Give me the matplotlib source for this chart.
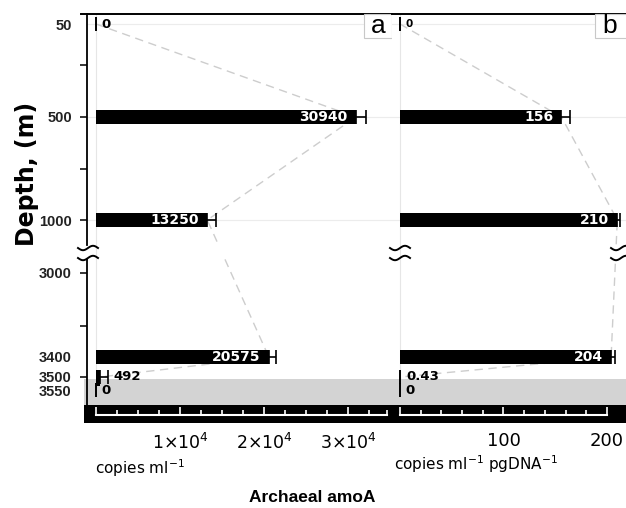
import numpy as np
import matplotlib
matplotlib.use("Agg")
import matplotlib.pyplot as plt
from matplotlib.patches import Rectangle
from matplotlib.ticker import FixedLocator

plt.rcParams['font.family'] = ['Liberation Sans', 'DejaVu Sans']
plt.rcParams['mathtext.fontset'] = 'dejavusans'

# data
depths = [50, 500, 1000, 3400, 3500, 3550]
copies_ml = [0, 30940, 13250, 20575, 492, 0]
copies_ml_err = [0, 1200, 1000, 800, 900, 0]
copies_pg = [0, 156, 210, 204, 0.43, 0]
copies_pg_err = [0, 8, 3, 4, 0, 0]
labels_a = ['0', '30940', '13250', '20575', '492', '0']
labels_b = ['0', '156', '210', '204', '0.43', '0']
depth_ticks = [50, 500, 1000, 3000, 3400, 3500, 3550]
depth_minor = [250, 750, 3250]

# broken depth axis (depth -> screen position)
brk_d = [0, 50, 500, 1000, 1120, 2930, 3000, 3400, 3500, 3550, 3700]
brk_p = [14, 24, 117, 220, 245, 259, 273, 357, 377, 390, 423]
gap = (1120, 2930)
sediment = (3508, 3618)
floor = (3618, 3700)
ruler_depth = 3664


def fwd(d):
    return np.interp(d, brk_d, brk_p)


def inv(p):
    return np.interp(p, brk_p, brk_d)


W, H = 626, 508
fig = plt.figure(figsize=(W / 100, H / 100), dpi=100)


def px_axes(x0, x1, y0, y1):
    return fig.add_axes([x0 / W, 1 - y1 / H, (x1 - x0) / W, (y1 - y0) / H])


def squiggle(cx, cy):
    t = np.linspace(-1, 1, 40)
    x = cx + 10 * t
    y = cy - 2.2 * np.sin(np.pi * t)
    fig.add_artist(plt.Line2D(x / W, 1 - y / H, color='black', lw=1.4,
                              transform=fig.transFigure))


def panel(ax, vals, errs, labels, inside_min, top_small):
    ax.set_yscale('function', functions=(fwd, inv))
    for d in depths[:3]:
        ax.axhline(d, color='#ececec', lw=0.8, zorder=0)
    ax.plot([0, 0], [0, sediment[0]], color='#e6e6e6', lw=0.8, zorder=1.7)
    ax.axhspan(*sediment, color='#d3d3d3', lw=0, zorder=0.5)
    ax.axhspan(*floor, color='black', lw=0, zorder=0.6)

    # profile line drawn in true depth, hidden inside the axis break
    ln, = ax.plot(vals, depths, ls=(0, (6, 4)), color='#cdcdcd', lw=1, zorder=1.5)
    ln.get_path()._interpolation_steps = 200
    ax.axhspan(*gap, color='white', lw=0, zorder=1.6)

    ax.barh(depths, vals, height=70, color='black', lw=0, zorder=2)
    ax.errorbar(vals, depths, xerr=[np.zeros(len(errs)), errs], fmt='none',
                ecolor='black', elinewidth=1.2, capsize=5, capthick=1.2, zorder=3)

    for i, (v, e, lab) in enumerate(zip(vals, errs, labels)):
        if v >= inside_min:
            ax.annotate(lab, (v, depths[i]), xytext=(-6, 0), textcoords='offset points',
                        ha='right', va='center', color='white', fontweight='bold',
                        fontsize=10, family='DejaVu Sans', zorder=4)
        else:
            fs = 7.5 if (i == 0 and top_small) else 9.5
            ax.annotate(lab, (v + e, depths[i]), xytext=(4, 0), textcoords='offset points',
                        ha='left', va='center', color='black', fontweight='bold',
                        fontsize=fs, family='DejaVu Sans', zorder=4)

    ax.set_ylim(floor[1], 0)
    for s in ['left', 'right']:
        ax.spines[s].set_visible(False)
    ax.spines['top'].set_linewidth(1.4)
    ax.spines['bottom'].set_position(('data', ruler_depth))
    ax.spines['bottom'].set_color('white')
    ax.spines['bottom'].set_linewidth(1.5)
    ax.tick_params(axis='x', which='both', direction='in', color='white',
                   width=1.2, pad=12.5, labelcolor='black')
    ax.tick_params(axis='x', which='major', length=6)
    ax.tick_params(axis='x', which='minor', length=3.5)


# panel a
ax_a = px_axes(87, 392, 14, 423)
panel(ax_a, copies_ml, copies_ml_err, labels_a, 5000, False)
ax_a.set_xlim(-1071, 35238)
ax_a.spines['bottom'].set_bounds(0, 34600)
ax_a.set_xticks([0, 1e4, 2e4, 3e4],
                labels=['', r'1×10$^{\mathregular{4}}$', r'2×10$^{\mathregular{4}}$',
                        r'3×10$^{\mathregular{4}}$'],
                fontsize=12.5, family='DejaVu Sans')
ax_a.xaxis.set_minor_locator(FixedLocator(np.append(np.arange(0, 34000, 2500), 34600)))
ax_a.set_yticks(depth_ticks, labels=[str(d) for d in depth_ticks],
                fontweight='bold', fontsize=10.5, color='#222222')
ax_a.set_yticks(depth_minor, minor=True)
ax_a.tick_params(axis='y', which='both', direction='out', length=5, width=1.1, pad=6)
for tk, d in zip(ax_a.yaxis.get_major_ticks(), depth_ticks):
    if d in (50, 3400, 3550):
        tk.tick1line.set_visible(False)

# left axis line with break
yt = ax_a.get_yaxis_transform()
ax_a.plot([0, 0], [0, gap[0]], color='black', lw=1.3, transform=yt, clip_on=False)
ax_a.plot([0, 0], [gap[1], sediment[1]], color='black', lw=1.3, transform=yt, clip_on=False)
ax_a.plot([-6 / 305, 0], [1, 1], color='black', lw=1.4, transform=ax_a.transAxes, clip_on=False)
for sp in ax_a.patches[:2]:
    sp.set_clip_on(False)
    sp.set_x(-3 / 305)
    sp.set_width(1 + 3 / 305)

# panel b
ax_b = px_axes(392, 626, 14, 423)
panel(ax_b, copies_pg, copies_pg_err, labels_b, 50, True)
ax_b.set_xlim(-7.73, 218.4)
ax_b.spines['bottom'].set_bounds(0, 200)
ax_b.set_xticks([0, 100, 200], labels=['', '100', '200'], fontsize=13, family='DejaVu Sans')
ax_b.xaxis.set_minor_locator(FixedLocator(np.arange(0, 201, 20)))
ax_b.tick_params(axis='y', which='both', left=False, labelleft=False)

# panel letters
for ax, x0, w, xc, letter in [(ax_a, 0.908, 0.092, 0.954, 'a'),
                               (ax_b, 0.8675, 0.14, 0.932, 'b')]:
    ax.add_patch(Rectangle((x0, 0.9413), w, 0.0587, transform=ax.transAxes,
                           fc='white', ec='#c8c8c8', lw=0.8, zorder=5, clip_on=False))
    ax.text(xc, 0.9535, letter, transform=ax.transAxes, ha='center', va='baseline',
            fontsize=19, zorder=6)

# axis breaks
for cx in (88, 400, 621):
    squiggle(cx, 248)
    squiggle(cx, 258)

fig.text(27 / W, 1 - 174 / H, 'Depth, (m)', rotation=90, ha='center', va='center',
         fontsize=17, fontweight='bold', family='DejaVu Sans')
fig.text(95 / W, 1 - 468 / H, r'copies ml$^{\mathregular{-1}}$', ha='left', va='center',
         fontsize=11, family='DejaVu Sans')
fig.text(476 / W, 1 - 464 / H, r'copies ml$^{\mathregular{-1}}$ pgDNA$^{\mathregular{-1}}$',
         ha='center', va='center', fontsize=11, family='DejaVu Sans')
fig.text(312 / W, 1 - 497 / H, 'Archaeal amoA', ha='center', va='center',
         fontsize=12.5, fontweight='bold')

fig.savefig('out.png', dpi=100)
